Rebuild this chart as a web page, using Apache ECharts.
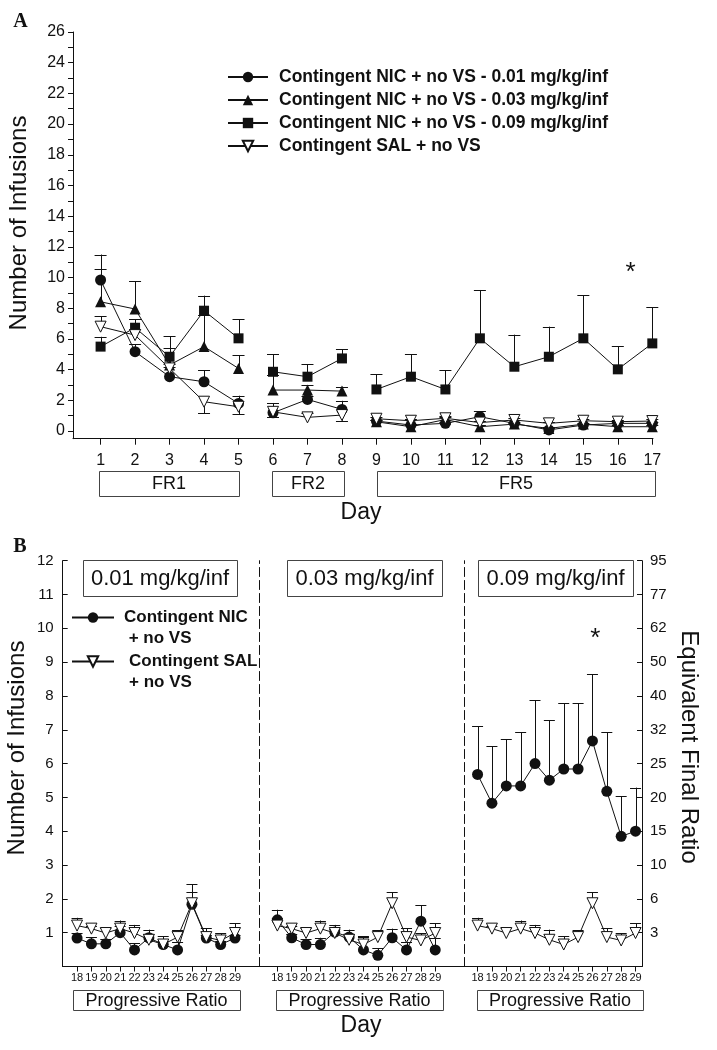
<!DOCTYPE html>
<html>
<head>
<meta charset="utf-8">
<title>Nicotine self-administration</title>
<script src="https://cdn.jsdelivr.net/npm/echarts@6/dist/echarts.min.js"></script>
<style>
  html, body { margin: 0; padding: 0; background: #fff; }
  #chart { width: 717px; height: 1050px; }
</style>
</head>
<body>
<div id="chart"></div>
<script>
// ---------- data: panel A (fixed-ratio sessions) ----------
const daysA = [1, 2, 3, 4, 5, 6, 7, 8, 9, 10, 11, 12, 13, 14, 15, 16, 17]
const phaseBreaksA = [5.5, 8.5]   // lines are not joined across schedule changes
const phaseLabels = ['FR1', 'FR2', 'FR5']

const nic01A    = [9.84, 5.17, 3.54, 3.21, 1.80, 1.19, 2.06, 1.41, 0.65, 0.39, 0.50, 0.93, 0.50, 0.07, 0.39, 0.50, 0.50]
const nic01AErr = [1.66, 0.50, 0.60, 0.76, 0.50, -0.30, 0.20, 0.56, 0.10, 0.10, 0.10, 0.37, 0.10, 0.10, 0.10, 0.10, 0.10]
const nic03A    = [8.42, 7.95, 4.30, 5.50, 4.08, 2.67, 2.67, 2.60, 0.60, 0.28, 0.75, 0.28, 0.45, 0.17, 0.45, 0.28, 0.28]
const nic03AErr = [2.13, 1.82, 1.10, 2.06, 0.87, 1.00, 0.30, 0.29, 0.10, 0.10, 0.15, 0.10, 0.10, 0.10, 0.10, 0.10, 0.10]
const nic09A    = [5.50, 6.73, 4.84, 7.84, 6.04, 3.86, 3.54, 4.73, 2.71, 3.54, 2.71, 6.04, 4.19, 4.84, 6.04, 4.02, 5.71]
const nic09AErr = [0.64, 0.54, 1.35, 0.98, 1.23, 1.14, 0.82, 0.59, 1.00, 1.46, 1.24, 3.15, 2.09, 1.96, 2.80, 1.52, 2.35]
const salA      = [6.80, 6.25, 4.08, 1.91, 1.58, 1.25, 0.89, 1.04, 0.80, 0.67, 0.83, 0.55, 0.72, 0.50, 0.67, 0.61, 0.65]
const salAErr   = [0.69, 0.40, 0.30, -0.76, -0.50, 0.55, 0.30, -0.37, 0.12, 0.12, 0.12, 0.12, 0.12, 0.12, 0.12, 0.12, 0.12]
const starA = [[16.37, 10.3]]

// ---------- data: panel B (progressive ratio) ----------
const daysB = [18, 19, 20, 21, 22, 23, 24, 25, 26, 27, 28, 29]
const doseTitles = ['0.01 mg/kg/inf', '0.03 mg/kg/inf', '0.09 mg/kg/inf']
const ratioLabels = ['3', '6', '10', '15', '20', '25', '32', '40', '50', '62', '77', '95'] // y = 1..12

const nic01B    = [0.84, 0.67, 0.67, 1.00, 0.49, 0.85, 0.65, 0.49, 1.84, 0.84, 0.65, 0.84]
const nic01BErr = [0.16, 0.20, 0.15, 0.20, 0.20, 0.10, 0.10, 0.22, 0.59, 0.10, 0.10, 0.10]
const nic03B    = [1.38, 0.85, 0.65, 0.65, 1.02, 0.87, 0.49, 0.33, 0.85, 0.49, 1.34, 0.49]
const nic03BErr = [0.30, 0.10, 0.15, 0.20, 0.10, 0.10, 0.38, 0.21, 0.27, 0.23, 0.47, 0.36]
const nic09B    = [5.68, 4.83, 5.34, 5.34, 6.00, 5.51, 5.84, 5.84, 6.67, 5.18, 3.85, 4.00]
const nic09BErr = [1.43, 1.69, 1.38, 1.58, 1.87, 1.77, 1.95, 1.95, 1.97, 1.74, 1.18, 1.29]
const salB      = [1.21, 1.12, 0.99, 1.12, 0.99, 0.79, 0.65, 0.87, 1.87, 0.87, 0.77, 0.99]
const salBErr   = [0.23, 0.08, 0.16, 0.24, 0.24, 0.30, 0.24, 0.20, 0.33, 0.26, 0.22, 0.29]
const starB = [[26.2, 9.7]]

// ---------- style ----------
const INK = '#111'
const FONT = '"Liberation Sans", Arial, Helvetica, sans-serif'
const NAME_SAL = 'Contingent SAL + no VS'
const NAME_NIC = 'Contingent NIC + no VS'

const MARKS = {
  circle:  { symbol: 'circle', symbolSize: 11, itemStyle: { color: INK } },
  triUp:   { symbol: 'triangle', symbolSize: 11, itemStyle: { color: INK } },
  square:  { symbol: 'rect', symbolSize: 10, itemStyle: { color: INK } },
  triDown: { symbol: 'triangle', symbolSize: 11, symbolRotate: 180,
             itemStyle: { color: '#fff', borderColor: INK, borderWidth: 1 } }
}

function withGaps(days, vals, breaks) {
  const out = []
  days.forEach((d, i) => {
    if (i > 0 && breaks.some(b => b > days[i - 1] && b < d)) out.push([(days[i - 1] + d) / 2, '-'])
    out.push([d, vals[i]])
  })
  return out
}

function lineSeries(name, days, vals, breaks, mark, xi, yi) {
  return Object.assign({
    type: 'line', name, xAxisIndex: xi, yAxisIndex: yi,
    data: withGaps(days, vals, breaks),
    lineStyle: { color: INK, width: 1 },
    emphasis: { disabled: true },
    z: 3
  }, mark)
}

const px = v => Math.round(v) + 0.5

function errSeries(days, vals, errs, cap, xi, yi) {
  return {
    type: 'custom', xAxisIndex: xi, yAxisIndex: yi, silent: true, z: 2,
    data: days.map((d, i) => [d, vals[i], errs[i]]),
    encode: { x: 0, y: 1 },
    renderItem: (params, api) => {
      const x = api.value(0), y = api.value(1), e = api.value(2)
      const base = api.coord([x, y])
      const tip = api.coord([x, y + e])
      const style = { stroke: INK, lineWidth: 1 }
      return {
        type: 'group',
        children: [
          { type: 'line', shape: { x1: px(base[0]), y1: base[1], x2: px(tip[0]), y2: tip[1] }, style },
          { type: 'line', shape: { x1: tip[0] - cap, y1: px(tip[1]), x2: tip[0] + cap, y2: px(tip[1]) }, style }
        ]
      }
    }
  }
}

function starSeries(points, xi, yi) {
  return {
    type: 'custom', xAxisIndex: xi, yAxisIndex: yi, silent: true, z: 5,
    data: points,
    renderItem: (params, api) => {
      const p = api.coord([api.value(0), api.value(1)])
      return { type: 'text', x: p[0], y: p[1],
        style: { text: '*', fontSize: 26, fontFamily: FONT, fill: INK, align: 'center', verticalAlign: 'middle' } }
    }
  }
}

// ---------- axes ----------
const axisLine = { onZero: false, lineStyle: { color: INK, width: 1 } }
const dashedLine = { onZero: false, lineStyle: { color: INK, width: 1, type: [9, 4] } }
const range = (a, b) => Array.from({ length: b - a + 1 }, (_, i) => a + i)

const gridsB = [
  { left: 62.7, width: 196.3 },
  { left: 259, width: 205.5 },
  { left: 464.5, width: 177.5 }
]
const xRangeB = [[17, 30.67], [16.72, 31.04], [17.09, 29.45]]

const grid = [{ left: 73, right: 64, top: 32, bottom: 611.3 }]
  .concat(gridsB.map(g => ({ left: g.left, width: g.width, top: 560.7, bottom: 83.5 })))

const xAxis = [{
  gridIndex: 0, type: 'value', min: 0.2, max: 17.02,
  axisLine, splitLine: { show: false },
  axisTick: { customValues: daysA, length: 6, lineStyle: { color: INK } },
  axisLabel: { customValues: daysA, color: INK, fontFamily: FONT, fontSize: 16, margin: 14 }
}].concat(xRangeB.map((r, i) => ({
  gridIndex: i + 1, type: 'value', min: r[0], max: r[1],
  axisLine, splitLine: { show: false },
  axisTick: { customValues: daysB, length: 5, lineStyle: { color: INK } },
  axisLabel: { customValues: daysB, color: INK, fontFamily: FONT, fontSize: 11, margin: 6 }
})))

const yAxis = [
  {
    gridIndex: 0, type: 'value', min: -0.5, max: 26,
    axisLine, splitLine: { show: false },
    axisTick: { customValues: range(0, 26), length: 5, lineStyle: { color: INK } },
    axisLabel: { customValues: range(0, 13).map(v => v * 2), color: INK, fontFamily: FONT, fontSize: 16, margin: 8 }
  },
  {
    gridIndex: 1, type: 'value', min: 0, max: 12, interval: 1,
    axisLine, splitLine: { show: false },
    axisTick: { inside: true, length: 5, lineStyle: { color: INK } },
    axisLabel: { color: INK, fontFamily: FONT, fontSize: 15, margin: 9, formatter: v => (v === 0 ? '' : v) }
  },
  {
    gridIndex: 2, type: 'value', min: 0, max: 12,
    axisLine: dashedLine, axisTick: { show: false }, axisLabel: { show: false }, splitLine: { show: false }
  },
  {
    gridIndex: 3, type: 'value', min: 0, max: 12,
    axisLine: dashedLine, axisTick: { show: false }, axisLabel: { show: false }, splitLine: { show: false }
  },
  {
    gridIndex: 3, type: 'value', position: 'right', min: 0, max: 12, interval: 1,
    axisLine, splitLine: { show: false },
    axisTick: { inside: true, length: 5, lineStyle: { color: INK } },
    axisLabel: { color: INK, fontFamily: FONT, fontSize: 15, margin: 8,
                 formatter: v => (v >= 1 ? ratioLabels[v - 1] : '') }
  }
]

// ---------- series ----------
const namesA = [
  'Contingent NIC + no VS - 0.01 mg/kg/inf',
  'Contingent NIC + no VS - 0.03 mg/kg/inf',
  'Contingent NIC + no VS - 0.09 mg/kg/inf',
  NAME_SAL
]

const series = [
  errSeries(daysA, nic09A, nic09AErr, 6, 0, 0),
  errSeries(daysA, nic03A, nic03AErr, 6, 0, 0),
  errSeries(daysA, nic01A, nic01AErr, 6, 0, 0),
  errSeries(daysA, salA, salAErr, 6, 0, 0),
  lineSeries(namesA[2], daysA, nic09A, phaseBreaksA, MARKS.square, 0, 0),
  lineSeries(namesA[1], daysA, nic03A, phaseBreaksA, MARKS.triUp, 0, 0),
  lineSeries(namesA[0], daysA, nic01A, phaseBreaksA, MARKS.circle, 0, 0),
  lineSeries(NAME_SAL, daysA, salA, phaseBreaksA, MARKS.triDown, 0, 0),
  starSeries(starA, 0, 0),
  starSeries(starB, 3, 3)
]

const nicB = [[nic01B, nic01BErr], [nic03B, nic03BErr], [nic09B, nic09BErr]]
nicB.forEach(([vals, errs], i) => {
  series.push(
    errSeries(daysB, vals, errs, 5.5, i + 1, i + 1),
    errSeries(daysB, salB, salBErr, 5.5, i + 1, i + 1),
    lineSeries(NAME_NIC, daysB, vals, [], MARKS.circle, i + 1, i + 1),
    lineSeries(NAME_SAL, daysB, salB, [], MARKS.triDown, i + 1, i + 1)
  )
})

// ---------- annotations ----------
function box(x0, x1, y0, y1, text, fontSize) {
  return [
    { type: 'rect', shape: { x: px(x0), y: px(y0), width: Math.round(x1 - x0), height: Math.round(y1 - y0) },
      style: { fill: '#fff', stroke: '#444', lineWidth: 1 }, z: 10 },
    { type: 'text', x: (x0 + x1) / 2, y: (y0 + y1) / 2 + 1, z: 11,
      style: { text, fontSize, fontFamily: FONT, fill: INK, align: 'center', verticalAlign: 'middle' } }
  ]
}

function label(text, x, y, fontSize, rotation) {
  return { type: 'text', x, y, rotation: rotation || 0, z: 11,
    style: { text, fontSize, fontFamily: FONT, fill: INK, align: 'center', verticalAlign: 'middle' } }
}

function panelLetter(text, x, y) {
  return { type: 'text', x, y, z: 11,
    style: { text, fontSize: 20, fontWeight: 'bold', fontFamily: '"Liberation Serif", serif',
             fill: INK, align: 'center', verticalAlign: 'middle' } }
}

const phaseBoxX = [[99, 239], [272, 344], [377, 655]]
const prBoxX = [[73, 240], [276, 443], [477, 643]]
const doseBoxX = [[83, 237], [287, 442], [478, 633]]

const graphic = []
  .concat(...phaseLabels.map((t, i) => box(phaseBoxX[i][0], phaseBoxX[i][1], 471, 496, t, 18)))
  .concat(...prBoxX.map(b => box(b[0], b[1], 990, 1010, 'Progressive Ratio', 18)))
  .concat(...doseTitles.map((t, i) => box(doseBoxX[i][0], doseBoxX[i][1], 560, 596, t, 22)))
  .concat([
    label('Number of Infusions', 19, 223, 24, Math.PI / 2),
    label('Number of Infusions', 17, 748, 24, Math.PI / 2),
    label('Equivalent Final Ratio', 689, 747, 24, -Math.PI / 2),
    label('Day', 361, 513, 23),
    label('Day', 361, 1026, 23),
    panelLetter('A', 20.5, 22),
    panelLetter('B', 20, 547)
  ])

// ---------- legends ----------
// panel B entries wrap onto two lines with the marker level with the first one,
// so an empty leading line keeps the text block centred one line lower
const legendText = { fontFamily: FONT, fontWeight: 'bold', color: INK }
const legend = [
  {
    data: namesA, orient: 'vertical', left: 227, top: 68, padding: 0,
    itemWidth: 40, itemHeight: 13, itemGap: 5, selectedMode: false,
    textStyle: Object.assign({ fontSize: 17.5, padding: [0, 0, 0, 6] }, legendText)
  },
  {
    data: [NAME_NIC], left: 71, top: 586, padding: 0,
    itemWidth: 42, itemHeight: 13, selectedMode: false,
    formatter: () => '\nContingent NIC\n + no VS',
    textStyle: Object.assign({ fontSize: 17, lineHeight: 21, padding: [0, 0, 0, 5] }, legendText)
  },
  {
    data: [NAME_SAL], left: 71, top: 630, padding: 0,
    itemWidth: 42, itemHeight: 13, selectedMode: false,
    formatter: () => '\nContingent SAL\n+ no VS',
    textStyle: Object.assign({ fontSize: 17, lineHeight: 21, padding: [0, 0, 0, 10] }, legendText)
  }
]

const chart = echarts.init(document.getElementById('chart'))
chart.setOption({
  animation: false,
  backgroundColor: '#fff',
  grid, xAxis, yAxis, legend, series, graphic
})
</script>
</body>
</html>
